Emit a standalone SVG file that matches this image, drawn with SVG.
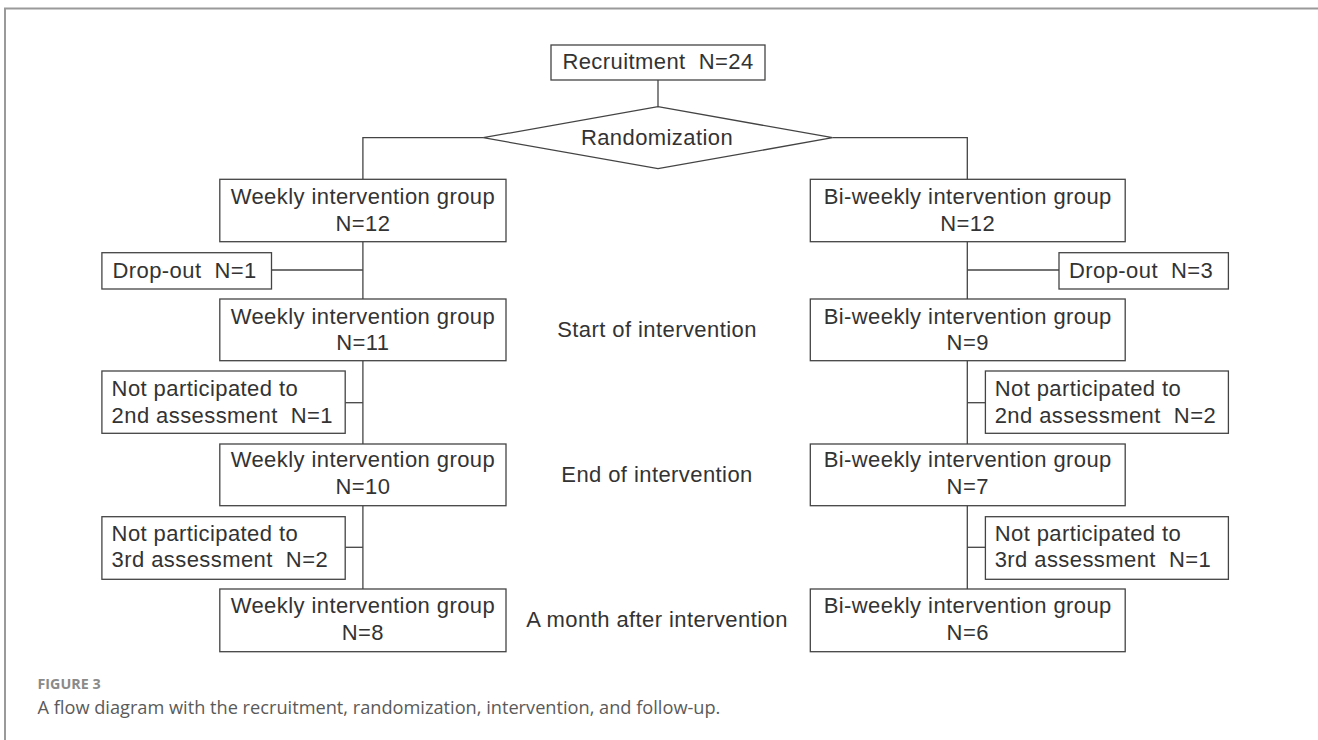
<svg xmlns="http://www.w3.org/2000/svg" width="1318" height="740" viewBox="0 0 1318 740">
<style>
.box{fill:#fff;stroke:#444;stroke-width:1.3}
.t{font-family:"Liberation Sans",Arial,sans-serif;font-size:22px;letter-spacing:0.42px;fill:#333}
.c{text-anchor:middle}
.conn{fill:none;stroke:#444;stroke-width:1.3}
.frame{stroke:#9a9a9a;stroke-width:2;fill:none}
.cap1{font-family:"Open Sans","Noto Sans",sans-serif;font-weight:bold;font-size:14.3px;fill:#8a8a8a}
.cap2{font-family:"Open Sans","Noto Sans",sans-serif;font-size:18.2px;fill:#5a5a5a}
</style>
<rect width="1318" height="740" fill="#fff"/>
<g id="frame">
<path class="frame" d="M5,740 V8.5 H1318"/>
</g>
<g id="connectors">
<line class="conn" x1="658" y1="80" x2="658" y2="106.7"/>
<polyline class="conn" points="483.2,137.7 362.9,137.7 362.9,179.3"/>
<polyline class="conn" points="832.6,137.7 967.3,137.7 967.3,179.3"/>
<line class="conn" x1="362.9" y1="241.7" x2="362.9" y2="299"/>
<line class="conn" x1="362.9" y1="360.7" x2="362.9" y2="444"/>
<line class="conn" x1="362.9" y1="505.7" x2="362.9" y2="589"/>
<line class="conn" x1="967.3" y1="241.7" x2="967.3" y2="299"/>
<line class="conn" x1="967.3" y1="360.7" x2="967.3" y2="444"/>
<line class="conn" x1="967.3" y1="505.7" x2="967.3" y2="589"/>
<line class="conn" x1="271.5" y1="270" x2="362.9" y2="270"/>
<line class="conn" x1="345.2" y1="402.7" x2="362.9" y2="402.7"/>
<line class="conn" x1="345.2" y1="547.3" x2="362.9" y2="547.3"/>
<line class="conn" x1="967.3" y1="270" x2="1059" y2="270"/>
<line class="conn" x1="967.3" y1="402.7" x2="985.4" y2="402.7"/>
<line class="conn" x1="967.3" y1="547.3" x2="985.4" y2="547.3"/>
</g>
<g id="recruitment">
<rect class="box" x="551" y="45" width="214" height="35"/>
<text class="t c" x="658" y="69" xml:space="preserve">Recruitment  N=24</text>
</g>
<g id="randomization">
<polygon class="box" points="483.2,137.7 658,106.7 832.6,137.7 658,168.7"/>
<text class="t c" x="657" y="144.5">Randomization</text>
</g>
<g id="weekly1">
<rect class="box" x="219.8" y="179.3" width="286.2" height="62.4"/>
<text class="t c" x="362.9" y="203.5">Weekly intervention group</text>
<text class="t c" x="362.9" y="230.5">N=12</text>
</g>
<g id="biweekly1">
<rect class="box" x="810.3" y="179.3" width="314.9" height="62.4"/>
<text class="t c" x="967.7" y="203.5">Bi-weekly intervention group</text>
<text class="t c" x="967.7" y="230.5">N=12</text>
</g>
<g id="dropout1">
<rect class="box" x="101.9" y="252.7" width="169.6" height="36.3"/>
<text class="t" x="112.5" y="278" xml:space="preserve">Drop-out  N=1</text>
</g>
<g id="dropout3">
<rect class="box" x="1059" y="252.7" width="169.4" height="36.3"/>
<text class="t" x="1069" y="278" xml:space="preserve">Drop-out  N=3</text>
</g>
<g id="weekly2">
<rect class="box" x="219.8" y="299" width="286.2" height="61.7"/>
<text class="t c" x="362.9" y="323.5">Weekly intervention group</text>
<text class="t c" x="362.9" y="350">N=11</text>
</g>
<g id="start">
<text class="t c" x="657" y="337">Start of intervention</text>
</g>
<g id="biweekly2">
<rect class="box" x="810.3" y="299" width="314.9" height="61.7"/>
<text class="t c" x="967.7" y="323.5">Bi-weekly intervention group</text>
<text class="t c" x="967.7" y="350">N=9</text>
</g>
<g id="np2left">
<rect class="box" x="101.9" y="371" width="243.3" height="62.3"/>
<text class="t" x="111.6" y="395.7">Not participated to</text>
<text class="t" x="111.6" y="422.7" xml:space="preserve">2nd assessment  N=1</text>
</g>
<g id="np2right">
<rect class="box" x="985.4" y="371" width="243" height="62.3"/>
<text class="t" x="994.7" y="395.7">Not participated to</text>
<text class="t" x="994.7" y="422.7" xml:space="preserve">2nd assessment  N=2</text>
</g>
<g id="weekly3">
<rect class="box" x="219.8" y="444" width="286.2" height="61.7"/>
<text class="t c" x="362.9" y="467">Weekly intervention group</text>
<text class="t c" x="362.9" y="494">N=10</text>
</g>
<g id="end">
<text class="t c" x="657" y="482">End of intervention</text>
</g>
<g id="biweekly3">
<rect class="box" x="810.3" y="444" width="314.9" height="61.7"/>
<text class="t c" x="967.7" y="467">Bi-weekly intervention group</text>
<text class="t c" x="967.7" y="494">N=7</text>
</g>
<g id="np3left">
<rect class="box" x="101.9" y="516.7" width="243.3" height="62.6"/>
<text class="t" x="111.6" y="541">Not participated to</text>
<text class="t" x="111.6" y="567.3" xml:space="preserve">3rd assessment  N=2</text>
</g>
<g id="np3right">
<rect class="box" x="985.4" y="516.7" width="243" height="62.6"/>
<text class="t" x="994.7" y="541">Not participated to</text>
<text class="t" x="994.7" y="567.3" xml:space="preserve">3rd assessment  N=1</text>
</g>
<g id="weekly4">
<rect class="box" x="219.8" y="589" width="286.2" height="62.7"/>
<text class="t c" x="362.9" y="613.3">Weekly intervention group</text>
<text class="t c" x="362.9" y="639.8">N=8</text>
</g>
<g id="month">
<text class="t c" x="657" y="626.7">A month after intervention</text>
</g>
<g id="biweekly4">
<rect class="box" x="810.3" y="589" width="314.9" height="62.7"/>
<text class="t c" x="967.7" y="613.3">Bi-weekly intervention group</text>
<text class="t c" x="967.7" y="639.8">N=6</text>
</g>
<g id="caption">
<text class="cap1" x="37.5" y="689.3">FIGURE 3</text>
<text class="cap2" x="37.5" y="714">A flow diagram with the recruitment, randomization, intervention, and follow-up.</text>
</g>
</svg>
